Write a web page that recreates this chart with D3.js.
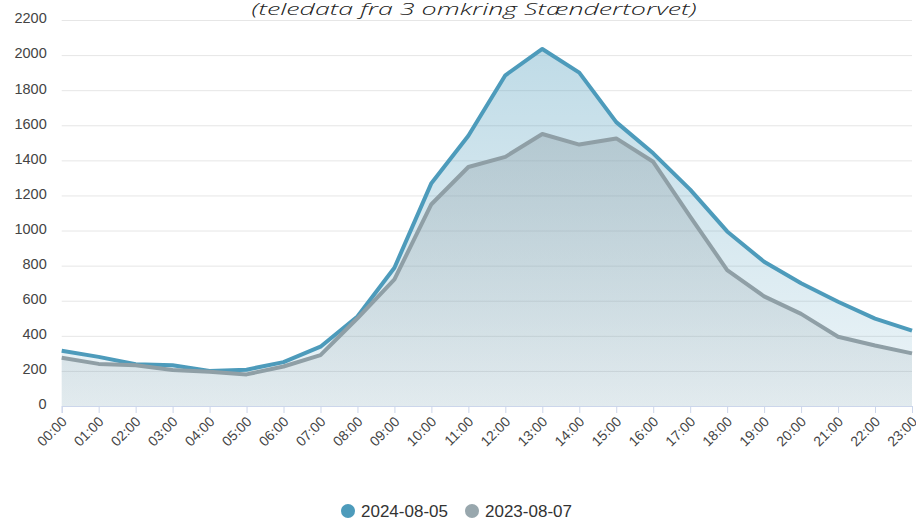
<!DOCTYPE html>
<html>
<body>
    <style>
        body, html {
            margin: 0;
            padding: 0;
            background: #fff;
        }
        svg { display: block; }
        .tick text { font-family: "Liberation Sans", Arial, sans-serif; }
    </style>

    <svg width="916" height="520"></svg>

    <script src="https://cdn.jsdelivr.net/npm/d3@7"></script>

    <script>
        var hours = ["00:00", "01:00", "02:00", "03:00", "04:00", "05:00", "06:00", "07:00",
                     "08:00", "09:00", "10:00", "11:00", "12:00", "13:00", "14:00", "15:00",
                     "16:00", "17:00", "18:00", "19:00", "20:00", "21:00", "22:00", "23:00"];

        var series2024 = [315, 280, 238, 232, 200, 207, 250, 338, 510, 788, 1270, 1540,
                          1885, 2035, 1900, 1618, 1440, 1233, 995, 822, 700, 594, 498, 430];

        var series2023 = [275, 240, 232, 205, 195, 180, 225, 290, 500, 722, 1150, 1362,
                          1420, 1550, 1490, 1525, 1392, 1080, 775, 625, 525, 395, 345, 300];

        var yTicks = [0, 200, 400, 600, 800, 1000, 1200, 1400, 1600, 1800, 2000, 2200];

        var seriesNames = ["2024-08-05", "2023-08-07"];
        var blueColor = "#4d9bbb";
        var grayColor = "#8f9fa6";

        var svg = d3.select("svg");
        var plotLeft = 61.7, plotRight = 912, plotTop = 20, plotBottom = 406;

        var x = d3.scalePoint().domain(hours).range([plotLeft, plotRight]).padding(0);
        var y = d3.scaleLinear().domain([0, 2200]).range([plotBottom, plotTop]);

        // gradients for the area fills
        var defs = svg.append("defs");
        function gradient(id, color, a0, a1) {
            var g = defs.append("linearGradient").attr("id", id)
                .attr("gradientUnits", "userSpaceOnUse")
                .attr("x1", 0).attr("y1", plotTop).attr("x2", 0).attr("y2", plotBottom);
            g.append("stop").attr("offset", 0).attr("stop-color", color).attr("stop-opacity", a0);
            g.append("stop").attr("offset", 1).attr("stop-color", color).attr("stop-opacity", a1);
        }
        gradient("fillBlue", blueColor, 0.38, 0.1);
        gradient("fillGray", grayColor, 0.48, 0.12);

        // Y AXIS + GRID
        var yAxis = svg.append("g")
            .attr("transform", "translate(" + plotLeft + ",0)")
            .call(d3.axisLeft(y).tickValues(yTicks).tickFormat(d3.format("d"))
                .tickSize(-(plotRight - plotLeft)).tickPadding(15));
        yAxis.select(".domain").remove();
        yAxis.selectAll(".tick line").attr("stroke", "#e6e6e6");
        yAxis.selectAll(".tick text")
            .attr("fill", "#444")
            .style("font-size", "14.5px")
            .attr("dy", "0.2em");

        // title (cut off at the top in the original)
        svg.append("text")
            .attr("x", 474).attr("y", 15)
            .attr("text-anchor", "middle")
            .attr("textLength", 445)
            .attr("lengthAdjust", "spacingAndGlyphs")
            .style("font-family", "'Open Sans', sans-serif")
            .style("font-style", "italic")
            .style("font-weight", 300)
            .style("font-size", "16px")
            .style("fill", "#222")
            .text("(teledata fra 3 omkring Stændertorvet)");

        // AREAS
        var area = d3.area()
            .x(function(d, i) { return x(hours[i]); })
            .y0(plotBottom)
            .y1(function(d) { return y(d); });

        var line = d3.line()
            .x(function(d, i) { return x(hours[i]); })
            .y(function(d) { return y(d); });

        svg.append("path").datum(series2024)
            .attr("d", area).attr("fill", "url(#fillBlue)");
        svg.append("path").datum(series2023)
            .attr("d", area).attr("fill", "url(#fillGray)");

        // X AXIS
        var xAxis = svg.append("g")
            .attr("transform", "translate(0," + plotBottom + ")")
            .call(d3.axisBottom(x).tickSize(7).tickPadding(6));
        xAxis.select(".domain").attr("stroke", "#ccd6eb");
        xAxis.selectAll(".tick line").attr("stroke", "#ccd6eb");
        xAxis.selectAll(".tick text")
            .attr("fill", "#444")
            .style("font-size", "14px")
            .attr("text-anchor", "end")
            .attr("y", 0)
            .attr("dy", "0.35em")
            .attr("transform", "translate(2,13) rotate(-45)");

        // LINES
        svg.append("path").datum(series2024)
            .attr("d", line).attr("fill", "none")
            .attr("stroke", blueColor).attr("stroke-width", 4)
            .attr("stroke-linejoin", "round");
        svg.append("path").datum(series2023)
            .attr("d", line).attr("fill", "none")
            .attr("stroke", grayColor).attr("stroke-width", 4)
            .attr("stroke-linejoin", "round");

        // LEGEND
        var legendColors = [blueColor, "#98a7ad"];
        var legendX = [348, 472];
        var legend = svg.append("g").selectAll("g")
            .data(seriesNames).enter().append("g")
            .attr("transform", function(d, i) { return "translate(" + legendX[i] + ",511)"; });
        legend.append("circle").attr("r", 7)
            .attr("fill", function(d, i) { return legendColors[i]; });
        legend.append("text")
            .attr("x", 13).attr("y", 6)
            .style("font-family", "'Liberation Sans', Arial, sans-serif")
            .style("font-size", "17px")
            .style("fill", "#333")
            .text(function(d) { return d; });
    </script>
</body>
</html>
